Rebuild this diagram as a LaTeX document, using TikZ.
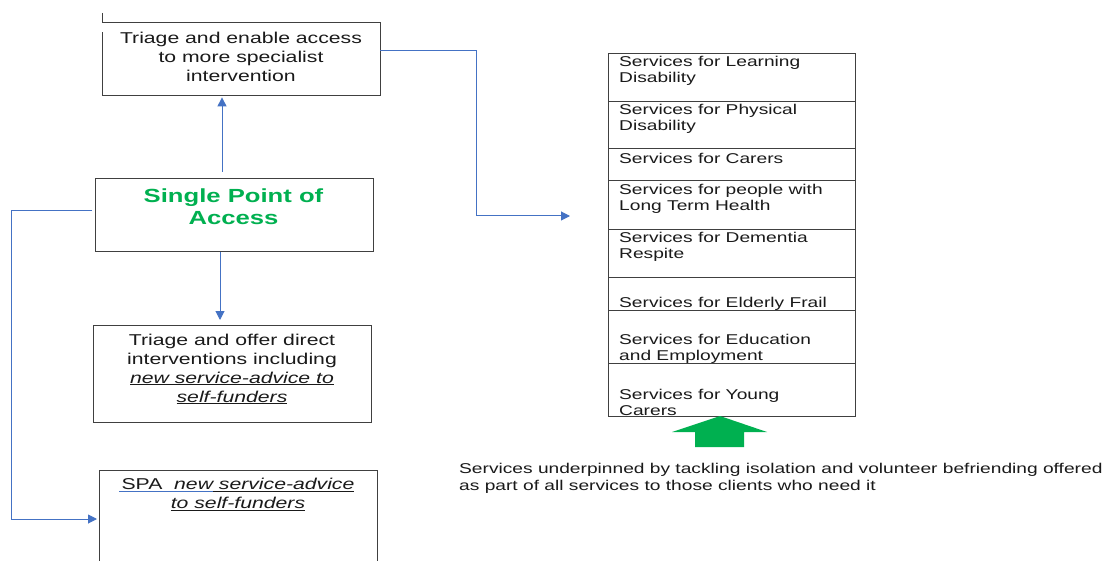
\documentclass[tikz,border=0pt]{standalone}
\usepackage{fontspec}
\setmainfont{Liberation Sans}[FakeStretch=1.35]
\usetikzlibrary{arrows.meta,calc}
\definecolor{conncol}{HTML}{4472C4}
\definecolor{boxcol}{HTML}{404040}
\definecolor{spagreen}{HTML}{00B050}
\definecolor{txtcol}{HTML}{1A1A1A}
\newcommand\fontA{\fontsize{15.7}{19}\selectfont}
\newcommand\fontB{\fontsize{19}{22}\selectfont\bfseries}
\newcommand\fontC{\fontsize{14.2}{16}\selectfont}
\newcommand\fontD{\fontsize{14.2}{17}\selectfont}
\newcommand\ul[1]{\underline{\textit{#1}}}
\begin{document}
\begin{tikzpicture}[x=1pt,y=-1pt,
  box/.style={draw=boxcol,line width=0.9pt,rectangle,inner sep=0pt,anchor=north west},
  hidden/.style={rectangle,inner sep=0pt,anchor=north west},
  cell/.style={draw=boxcol,line width=0.9pt,rectangle,inner sep=0pt,anchor=north west,minimum width=247pt},
  txt/.style={inner sep=0pt,text=txtcol,align=center},
  ctxt/.style={inner sep=0pt,text=txtcol,align=left,anchor=west,font=\fontC},
  conn/.style={draw=conncol,line width=1pt,-{Triangle[length=9pt,width=9pt]}}]
\clip (0,0) rectangle (1107,561);
\fill[white] (0,0) rectangle (1107,561);

% box 1 (drawn as an open path)
\node[hidden,minimum width=278pt,minimum height=73pt] (b1) at (102,22) {};
\draw[boxcol,line width=0.9pt] ([yshift=9pt]b1.north west) -- (b1.north west) -- (b1.north east)
  -- (b1.south east) -- (b1.south west) -- ([yshift=-10pt]b1.north west);
\node[txt,font=\fontA] (t1) at (241,57) {Triage and enable access\\to more specialist\\intervention};

% single point of access
\node[box,minimum width=278pt,minimum height=73pt] (spa) at (95,178) {};
\node[txt,font=\fontB,text=spagreen] (tspa) at (233.5,207) {Single Point of\\Access};

% box 3
\node[box,minimum width=278pt,minimum height=97pt] (b3) at (93,325) {};
\node[txt,font=\fontA] (t3) at (232,369) {Triage and offer direct\\interventions including\\\ul{new service-advice to}\\\ul{self-funders}};

% box 4
\node[box,minimum width=278pt,minimum height=130pt] (b4) at (99,470) {};
\node[txt,font=\fontA] (t4) at (238,494.5) {SPA\ \ \ul{new service-advice}\\\ul{to self-funders}};
\draw[conncol,line width=0.9pt] (119,491) -- (213,491);

% service cells
\node[cell,minimum height=48pt] (s1) at (608,53) {};
\node[cell,minimum height=47pt] (s2) at (608,101) {};
\node[cell,minimum height=32pt] (s3) at (608,148) {};
\node[cell,minimum height=49pt] (s4) at (608,180) {};
\node[cell,minimum height=48pt] (s5) at (608,229) {};
\node[cell,minimum height=33pt] (s6) at (608,277) {};
\node[cell,minimum height=53pt] (s7) at (608,310) {};
\node[cell,minimum height=53pt] (s8) at (608,363) {};
\node[ctxt] (c1) at (619,71) {Services for Learning\\Disability};
\node[ctxt] (c2) at (619,119) {Services for Physical\\Disability};
\node[ctxt] (c3) at (619,158.5) {Services for Carers};
\node[ctxt] (c4) at (619,199) {Services for people with\\Long Term Health};
\node[ctxt] (c5) at (619,247) {Services for Dementia\\Respite};
\node[ctxt] (c6) at (619,303.5) {Services for Elderly Frail};
\node[ctxt] (c7) at (619,349) {Services for Education\\and Employment};
\node[ctxt] (c8) at (619,402) {Services for Young\\Carers};

% green block arrow
\fill[spagreen] (720,416) -- (767,432) -- (744,432) -- (744,447) -- (695,447) -- (695,432) -- (672,432) -- cycle;

% bottom note
\node[inner sep=0pt,text=txtcol,align=left,anchor=west,font=\fontD] (note) at (459,478)
  {Services underpinned by tackling isolation and volunteer befriending offered\\as part of all services to those clients who need it};

% connectors
\coordinate (ax) at (222,0);
\coordinate (ax2) at (220,0);
\draw[conn,shorten <=6pt,shorten >=2pt] (spa.north -| ax) -- (b1.south -| ax);
\draw[conn,shorten >=5pt] (spa.south -| ax2) -- (b3.north -| ax2);
\coordinate (r1) at (0,51);
\coordinate (bend) at (476,216);
\coordinate (svc) at (570,216);
\draw[conn] (b1.east |- r1) -| (bend) -- (svc);
\coordinate (l1) at (0,211);
\coordinate (lv) at (11,0);
\coordinate (l2) at (0,519);
\draw[conn,shorten <=3pt,shorten >=2pt] (spa.west |- l1) -| (lv |- l2) -- (b4.west |- l2);
\end{tikzpicture}
\end{document}
